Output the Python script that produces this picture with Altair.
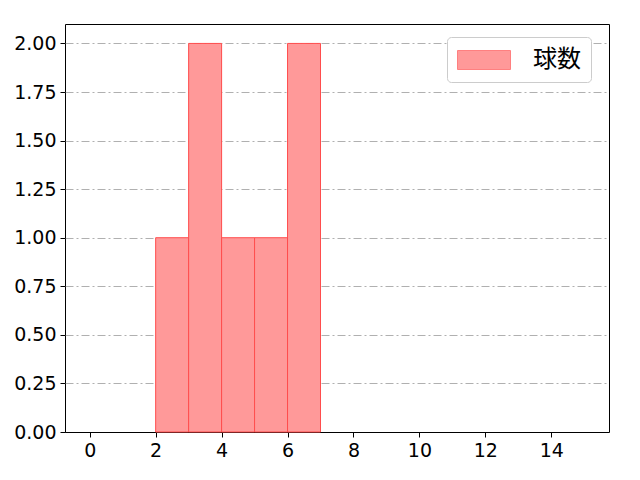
import altair as alt
import pandas as pd

bin_start = [2, 3, 4, 5, 6]
bin_end = [3, 4, 5, 6, 7]
counts = [1, 2, 1, 1, 2]
series = ["球数"] * 5
x_ticks = [0, 2, 4, 6, 8, 10, 12, 14]
y_ticks = [0, 0.25, 0.5, 0.75, 1.0, 1.25, 1.5, 1.75, 2.0]

df = pd.DataFrame({"start": bin_start, "end": bin_end, "count": counts, "series": series})

FONT = "Noto Sans CJK JP"
AXFONT = "DejaVu Sans"

chart = alt.Chart(df).mark_bar(
    fill="#ff9999", stroke="#ff4d4d", strokeWidth=1, opacity=1
).encode(
    x=alt.X("start:Q", scale=alt.Scale(domain=[-0.75, 15.75], nice=False, zero=False),
            axis=alt.Axis(values=x_ticks, title=None, grid=False, format="d")),
    x2="end:Q",
    y=alt.Y("count:Q", scale=alt.Scale(domain=[0, 2.1], nice=False, padding=0),
            axis=alt.Axis(values=y_ticks, title=None, format=".2f", grid=True,
                          gridColor={"condition": {"test": "datum.value == 0", "value": "black"},
                                     "value": "#b0b0b0"},
                          gridDash=[8, 3, 2, 3], gridWidth=1)),
    y2=alt.datum(0),
    color=alt.Color("series:N", scale=alt.Scale(range=["#ff9999"]),
                    legend=alt.Legend(title=None, orient="none", legendX=382, legendY=13,
                                      symbolType="M-2.12,-0.76H2.12V0.76H-2.12Z", symbolSize=625,
                                      symbolOffset=14,
                                      symbolStrokeColor="#ff8080", symbolStrokeWidth=1,
                                      symbolFillColor="#ff9999",
                                      labelFontSize=24, labelFont=FONT, labelOffset=36,
                                      padding=10, strokeColor="#cccccc", cornerRadius=4,
                                      fillColor="white")),
).properties(
    width=544, height=408,
    autosize=alt.AutoSizeParams(type="none"),
    padding={"left": 57, "top": 16, "right": 10, "bottom": 40},
).configure_view(
    stroke="black", strokeWidth=1
).configure_axis(
    labelFont=AXFONT, labelFontSize=19, labelColor="black",
    domain=False, tickColor="black", tickSize=5, tickWidth=1, labelPadding=4,
)

chart.save("out.html", embed_options={"renderer": "svg", "actions": False})
